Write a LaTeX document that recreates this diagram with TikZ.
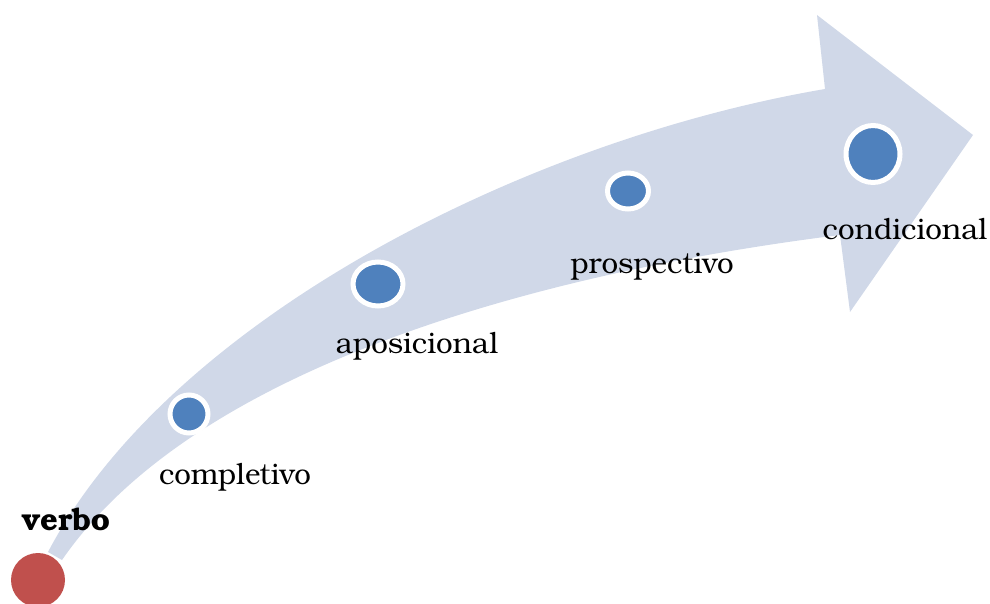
\documentclass[tikz,border=0pt]{standalone}
\usepackage{fontspec}
\setmainfont{texgyrebonum}[Extension=.otf, UprightFont=*-regular, BoldFont=*-bold]
\usetikzlibrary{shapes.geometric}

\definecolor{bandblue}{HTML}{D0D8E8}
\definecolor{dotblue}{HTML}{4F81BD}
\definecolor{dotred}{HTML}{C0504D}

\begin{document}
\begin{tikzpicture}[
		x=1pt,y=-1pt,
		dot/.style={ellipse,draw=white,line width=5pt,fill=dotblue,inner sep=0pt},
		stage/.style={anchor=base,font=\fontsize{29.5}{34}\selectfont},
		start/.style={circle,fill=dotred,inner sep=0pt,minimum size=54pt}
		]
		
		% Frame
		\useasboundingbox (0,0) rectangle (990,604);
		
		% Curved arrow
		\fill[bandblue] (48,552) .. controls (170,320) and (525,140) .. (825,89)
			-- (817,15) -- (973,135) -- (850,312) -- (840,235)
			.. controls (560,270) and (200,360) .. (62,560) -- cycle;
		
		% Start point
		\node[start] (verbo) at (38,580) {};
		\node[stage,font=\fontsize{31}{36}\selectfont\bfseries] (verbolabel) at (66,530) {verbo};
		
		% Stages
		\node[dot,minimum width=38pt,minimum height=38pt] (completivo) at (189,414) {};
		\node[stage] (completivolabel) at (235,484) {completivo};
		
		\node[dot,minimum width=50pt,minimum height=44pt] (aposicional) at (378,284) {};
		\node[stage] (aposicionallabel) at (417,353) {aposicional};
		
		\node[dot,minimum width=41pt,minimum height=36pt] (prospectivo) at (628,191) {};
		\node[stage] (prospectivolabel) at (652,273) {prospectivo};
		
		\node[dot,minimum width=54pt,minimum height=57pt] (condicional) at (873,154) {};
		\node[stage] (condicionallabel) at (905,239) {condicional};
		
	\end{tikzpicture}
\end{document}
